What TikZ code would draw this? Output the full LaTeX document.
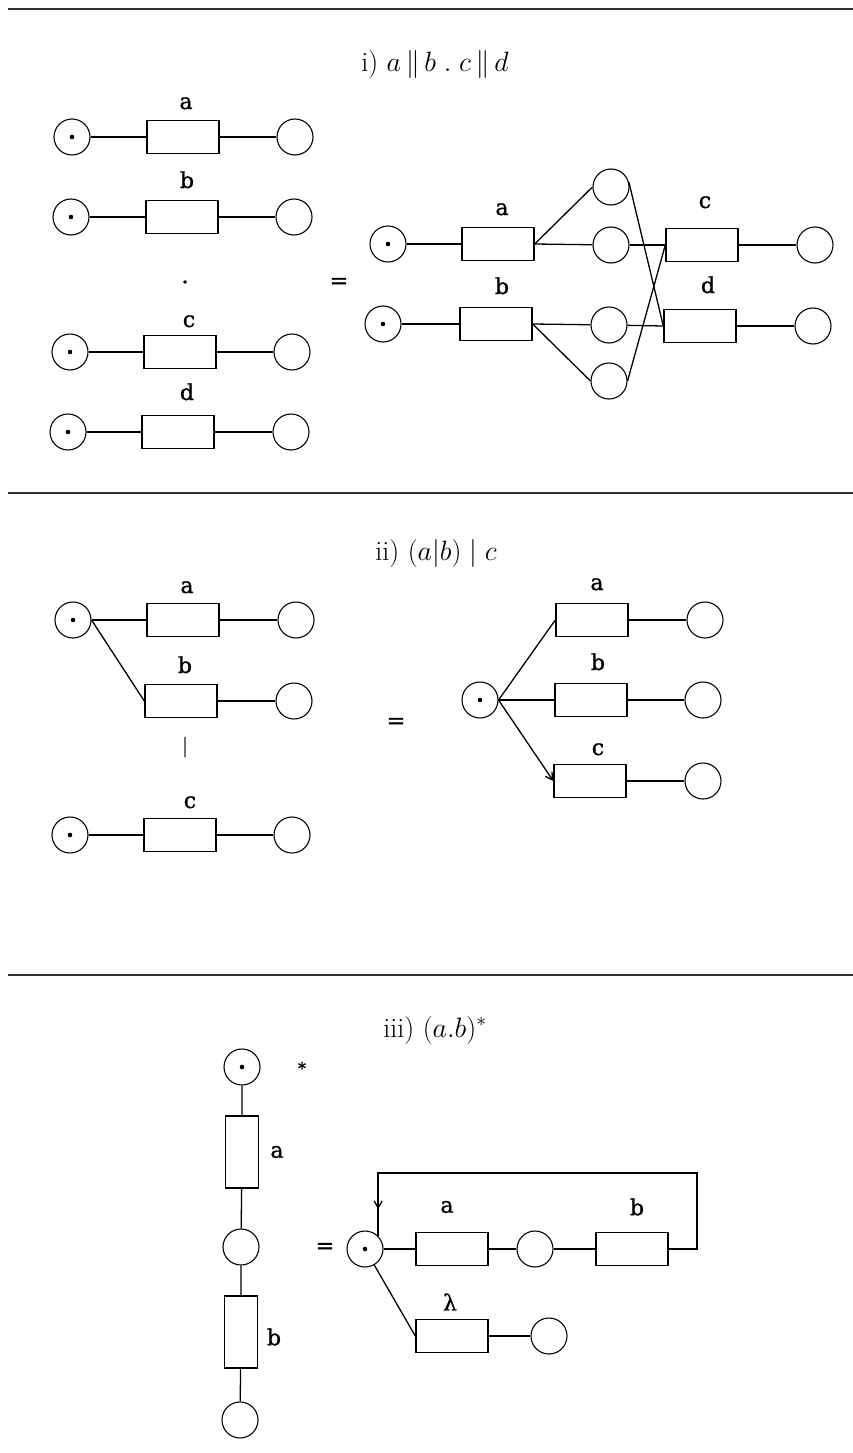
\RequirePackage{fix-cm}
\documentclass[tikz,border=0pt]{standalone}
\usepackage{fontspec}
\newfontfamily\labfont[FakeBold=1.2]{DejaVu Serif}
\usetikzlibrary{arrows.meta,decorations.markings}
\begin{document}
\begin{tikzpicture}[x=1pt,y=-1pt,
  place/.style={circle,draw,line width=1.1pt,minimum size=36pt,inner sep=0pt},
  marked/.style={place,path picture={\fill (path picture bounding box.center) circle (2.3pt);}},
  trans/.style={draw,line width=1.4pt,minimum width=72pt,minimum height=33pt,inner sep=0pt},
  vtrans/.style={draw,line width=1.4pt,minimum width=33pt,minimum height=72pt,inner sep=0pt},
  lab/.style={font=\labfont\fontsize{22}{24}\selectfont,inner sep=0pt,anchor=base},
  clab/.style={font=\labfont\fontsize{22}{24}\selectfont,inner sep=0pt},
  arc/.style={line width=1.3pt},
  title/.style={font=\fontsize{28}{32}\selectfont,inner sep=0pt,anchor=base},
  sep/.style={line width=1.6pt,draw=black!80},
  tip/.style={-{Straight Barb[length=7pt,width=8pt]}}
]
\useasboundingbox (0,0) rectangle (853,1453);

% separators
\draw[sep] (8,9) -- (853,9);
\draw[sep] (8,493) -- (853,493);
\draw[sep] (8,975) -- (853,975);

% ---------------- i ----------------
\node[title] (t1) at (435,72) {i) $a\,\|\,b\;.\;c\,\|\,d$};

\node[marked] (iAs) at (72,137) {};
\node[trans] (iAt) at (183,137) {};
\node[place] (iAe) at (295,137) {};
\node[lab] (iAl) at (186,109) {a};
\draw[arc] (iAs) -- (iAt) -- (iAe);

\node[marked] (iBs) at (71,217) {};
\node[trans] (iBt) at (182,217) {};
\node[place] (iBe) at (294,217) {};
\node[lab] (iBl) at (187,188) {b};
\draw[arc] (iBs) -- (iBt) -- (iBe);

\node[clab] (iDot) at (185,282) {.};

\node[marked] (iCs) at (70,352) {};
\node[trans] (iCt) at (180,352) {};
\node[place] (iCe) at (292,352) {};
\node[lab] (iCl) at (189,327) {c};
\draw[arc] (iCs) -- (iCt) -- (iCe);

\node[marked] (iDs) at (68,432) {};
\node[trans] (iDt) at (178,432) {};
\node[place] (iDe) at (291,432) {};
\node[lab] (iDl) at (187,400) {d};
\draw[arc] (iDs) -- (iDt) -- (iDe);

\node[clab] (iEq) at (339,283) {=};

\node[marked] (rs1) at (388,244) {};
\node[marked] (rs2) at (383,324) {};
\node[trans] (ra) at (498,244) {};
\node[trans] (rb) at (496,324) {};
\node[lab] (ral) at (502,215) {a};
\node[lab] (rbl) at (502,294) {b};
\node[place] (u1) at (611,187) {};
\node[place] (m1) at (611,245) {};
\node[place] (m2) at (609,325) {};
\node[place] (l2) at (609,381) {};
\node[trans] (rc) at (702,245) {};
\node[trans] (rd) at (700,326) {};
\node[lab] (rcl) at (705,208) {c};
\node[lab] (rdl) at (708,293) {d};
\node[place] (rce) at (815,245) {};
\node[place] (rde) at (813,326) {};
\draw[arc] (rs1) -- (ra);
\draw[arc] (rs2) -- (rb);
\draw[arc] (ra.east) -- (u1.west);
\draw[arc] (ra.east) -- (m1);
\draw[arc] (rb.east) -- (m2);
\draw[arc] (rb.east) -- (l2.west);
\draw[arc] (m1) -- (rc.west);
\draw[arc] (m2) -- (rd.west);
\draw[arc] (u1.15) -- (rd.west);
\draw[arc] (l2.east) -- (rc.west);
\draw[arc] (rc) -- (rce);
\draw[arc] (rd) -- (rde);

% ---------------- ii ----------------
\node[title] (t2) at (436,560) {ii) $(a|b)\;|\;c$};

\node[marked] (jAs) at (73,620) {};
\node[trans] (jAt) at (183,620) {};
\node[place] (jAe) at (296,620) {};
\node[lab] (jAl) at (187,593) {a};
\node[trans] (jBt) at (181,701) {};
\node[place] (jBe) at (294,701) {};
\node[lab] (jBl) at (185,673) {b};
\draw[arc] (jAs) -- (jAt) -- (jAe);
\draw[arc] (jAs.east) -- (jBt.west);
\draw[arc] (jBt) -- (jBe);

\node[clab,text=black!55,font=\labfont\fontsize{20}{22}\selectfont] (jBar) at (185,747) {|};

\node[marked] (jCs) at (70,835) {};
\node[trans] (jCt) at (180,835) {};
\node[place] (jCe) at (292,835) {};
\node[lab] (jCl) at (190,808) {c};
\draw[arc] (jCs) -- (jCt) -- (jCe);

\node[clab] (jEq) at (396,723) {=};

\node[marked] (ks) at (480,700) {};
\node[trans] (ka) at (592,620) {};
\node[trans] (kb) at (591,700) {};
\node[trans] (kc) at (590,781) {};
\node[lab] (kal) at (597,590) {a};
\node[lab] (kbl) at (598,670) {b};
\node[lab] (kcl) at (598,755) {c};
\node[place] (kae) at (705,620) {};
\node[place] (kbe) at (703,700) {};
\node[place] (kce) at (703,781) {};
\draw[arc] (ks.east) -- (ka.west);
\draw[arc] (ks.east) -- (kb.west);
\draw[arc,tip] (ks.east) -- (kc.west);
\draw[arc] (ka) -- (kae);
\draw[arc] (kb) -- (kbe);
\draw[arc] (kc) -- (kce);

% ---------------- iii ----------------
\node[title] (t3) at (435,1037) {iii) $(a.b)^*$};

\node[marked] (vs) at (242,1067) {};
\node[clab,font=\labfont\fontsize{16}{18}\selectfont] (vstar) at (302,1068) {*};
\node[vtrans] (va) at (242,1152) {};
\node[clab] (val) at (277,1152) {a};
\node[place] (vm) at (241,1247) {};
\node[vtrans] (vb) at (241,1332) {};
\node[clab] (vbl) at (274,1337) {b};
\node[place] (ve) at (240,1420) {};
\draw[arc] (vs) -- (va) -- (vm) -- (vb) -- (ve);

\node[clab] (vEq) at (325,1248) {=};

\node[marked] (ws) at (365,1249) {};
\node[trans] (wa) at (452,1249) {};
\node[clab] (wal) at (447,1207) {a};
\node[place] (wm) at (535,1249) {};
\node[trans] (wb) at (632,1249) {};
\node[clab] (wbl) at (637,1207) {b};
\node[clab] (wll) at (450,1302) {λ};
\node[trans] (wl) at (452,1336) {};
\node[place] (wle) at (549,1336) {};
\coordinate (wR) at (697,1173);
\draw[arc] (ws) -- (wa) -- (wm) -- (wb);
\draw[arc,postaction={decorate},decoration={markings,mark=at position 0.945 with {\arrow{Straight Barb[length=7pt,width=8pt]}}}]
  (wb.east) -| (wR) -| (ws.north east);
\draw[arc] (ws) -- (wl.west);
\draw[arc] (wl) -- (wle);
\end{tikzpicture}
\end{document}
